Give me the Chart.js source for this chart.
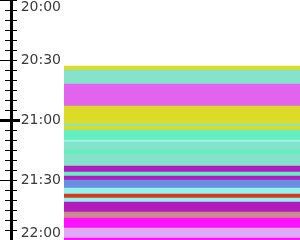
<!DOCTYPE html>
<html>
<head>
<meta charset="utf-8">
<script src="https://cdn.jsdelivr.net/npm/chart.js@4/dist/chart.umd.min.js"></script>
<style>
  html, body { margin: 0; padding: 0; background: #fff; }
  #wrap { width: 300px; height: 240px; }
</style>
</head>
<body>
<div id="wrap"><canvas id="c" width="300" height="240"></canvas></div>
<script>
// ---- data ----
const categories = ['timeline'];
const axisStart = '20:00';
const axisEnd = '22:00';
const labelStepMinutes = 30;
const minorStepMinutes = 5;
const emphasisTick = '21:00';

const segStart = ['20:33','20:35','20:42','20:53','21:02','21:03','21:05','21:10','21:11','21:15','21:17','21:23',
                  '21:26','21:28','21:30','21:34','21:37','21:39','21:41','21:46','21:49','21:54','21:59'];
const segEnd   = ['20:35','20:42','20:53','21:02','21:03','21:05','21:10','21:11','21:15','21:17','21:23','21:26',
                  '21:28','21:30','21:34','21:37','21:39','21:41','21:46','21:49','21:54','21:59','22:00'];
const segColor = ['#dcdb27','#85e3c9','#e263ee','#dcdb27','#85e3c9','#dcdb27','#65eebf','#98f2ec','#85e3c9','#65eebf','#85e3c9','#b11dbd',
                  '#65eebf','#b11dbd','#6a8fe0','#98f2ec','#d33b24','#98f2ec','#b11dbd','#c98b8b','#fe12fe','#e0a9f5','#fe12fe'];

// ---- helpers ----
const toMin = s => { const p = s.split(':').map(Number); return p[0] * 60 + p[1]; };
const fmt = v => Math.floor(v / 60) + ':' + String(Math.round(v % 60)).padStart(2, '0');
const yMin = toMin(axisStart), yMax = toMin(axisEnd), emph = toMin(emphasisTick);

const zeroPad = s => { s.paddingTop = 0; s.paddingBottom = 0; };

new Chart(document.getElementById('c'), {
  type: 'bar',
  data: {
    labels: categories,
    datasets: [{
      data: segStart.map((s, i) => ({ x: categories[0], y: [toMin(s), toMin(segEnd[i])] })),
      backgroundColor: segColor,
      borderWidth: 0,
      categoryPercentage: 1,
      barPercentage: 1
    }]
  },
  options: {
    responsive: false,
    animation: false,
    layout: { padding: 0 },
    plugins: { legend: { display: false }, tooltip: { enabled: false } },
    scales: {
      x: { display: false },
      y: {
        type: 'linear', position: 'left', weight: 0, min: yMin, max: yMax, reverse: true,
        ticks: {
          stepSize: labelStepMinutes, padding: 3, crossAlign: 'near', color: '#3a3a3a',
          font: { family: 'DejaVu Sans', size: 14, lineHeight: 1 },
          callback: v => v === yMin ? ['', fmt(v)] : (v === yMax ? [fmt(v), ''] : fmt(v))
        },
        grid: { display: false, drawTicks: false },
        border: { display: false },
        afterFit: s => { s.width = 44; zeroPad(s); }
      },
      yInner: {
        type: 'linear', position: 'left', weight: 1, min: yMin, max: yMax, reverse: true,
        ticks: { display: false, stepSize: minorStepMinutes },
        grid: {
          drawOnChartArea: false, drawTicks: true, tickLength: 9, tickColor: '#000',
          tickWidth: c => c.tick && c.tick.value === emph ? 3 : 1,
          tickBorderDash: c => c.tick && c.tick.value === emph ? [] : [6, 1000]
        },
        border: { display: false },
        afterFit: s => { s.width = 9; zeroPad(s); }
      },
      yOuter: {
        type: 'linear', position: 'left', weight: 2, min: yMin, max: yMax, reverse: true,
        ticks: { display: false, stepSize: minorStepMinutes },
        grid: {
          drawOnChartArea: false, drawTicks: true, tickLength: 11, tickColor: '#000',
          tickWidth: c => c.tick && c.tick.value === emph ? 3 : 1,
          tickBorderDash: c => c.tick && c.tick.value % labelStepMinutes === 0 ? [] : [0, 5, 1000]
        },
        border: { display: true, color: '#000', width: 3 },
        afterFit: s => { s.width = 11; zeroPad(s); }
      }
    }
  }
});
</script>
</body>
</html>
